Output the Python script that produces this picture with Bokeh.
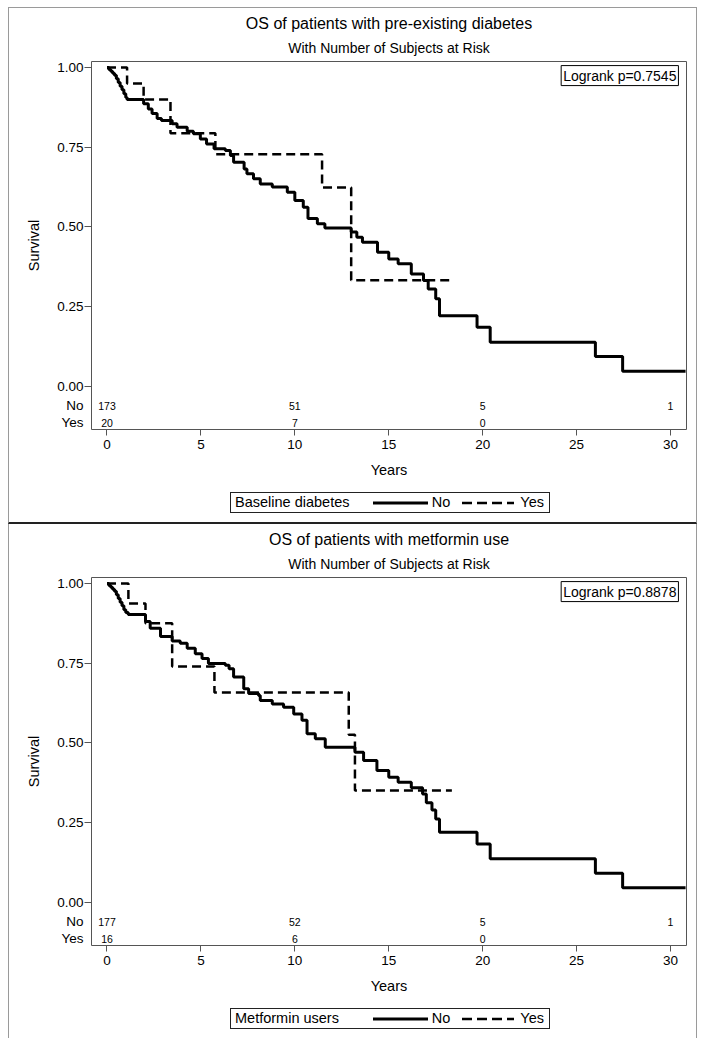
from bokeh.plotting import figure
from bokeh.models import (FixedTicker, Label, Title, LinearAxis, Div,
                          CustomJSTickFormatter)
from bokeh.layouts import column
from bokeh.embed import file_html
from bokeh.resources import INLINE
from bokeh.core.properties import value

# ---------------- data ----------------
year_ticks = [0, 5, 10, 15, 20, 25, 30]
surv_ticks = [0, 0.25, 0.5, 0.75, 1.0]
surv_labels = ["0.00", "0.25", "0.50", "0.75", "1.00"]
risk_times = [0, 10, 20, 30]
subtitle = "With Number of Subjects at Risk"
risk_groups = ["No", "Yes"]
legend_labels = ["No", "Yes"]

# Panel 1: baseline diabetes
p1_title = "OS of patients with pre-existing diabetes"
p1_legend_title = "Baseline diabetes"
p1_pval = "Logrank p=0.7545"
p1_no_t = [0, 0.1, 0.2, 0.3, 0.4, 0.5, 0.6, 0.7, 0.8, 0.9, 1.0, 1.07, 1.95, 2.2, 2.4, 2.67,
           2.9, 3.47, 3.73, 4.27, 4.6, 4.97, 5.3, 5.7, 6.3, 6.57, 6.74, 7.3, 7.45, 7.8, 8.16,
           8.8, 9.6, 10.0, 10.45, 10.7, 11.2, 11.6, 13.0, 13.3, 13.6, 14.4, 15.0, 15.5,
           16.2, 16.85, 17.1, 17.5, 17.7, 19.7, 20.4, 26.0, 27.45, 30.8]
p1_no_s = [1.0, 0.994, 0.988, 0.982, 0.976, 0.965, 0.953, 0.941, 0.930, 0.918, 0.906, 0.900,
           0.886, 0.870, 0.856, 0.840, 0.834, 0.824, 0.813, 0.800, 0.792, 0.776, 0.760,
           0.745, 0.740, 0.724, 0.703, 0.682, 0.667, 0.651, 0.635, 0.625, 0.609, 0.583,
           0.562, 0.527, 0.510, 0.497, 0.484, 0.468, 0.452, 0.421, 0.400, 0.385, 0.353,
           0.332, 0.306, 0.275, 0.222, 0.186, 0.139, 0.094, 0.048, 0.048]
p1_yes_t = [0, 1.07, 1.95, 3.38, 5.77, 11.45, 13.0, 18.36]
p1_yes_s = [1.0, 0.95, 0.90, 0.794, 0.728, 0.624, 0.333, 0.333]
p1_risk_no = ["173", "51", "5", "1"]
p1_risk_yes = ["20", "7", "0", ""]

# Panel 2: metformin use
p2_title = "OS of patients with metformin use"
p2_legend_title = "Metformin users"
p2_pval = "Logrank p=0.8878"
p2_no_t = [0, 0.1, 0.2, 0.3, 0.4, 0.5, 0.6, 0.7, 0.8, 0.9, 1.0, 1.13, 2.05, 2.3, 2.85, 3.47,
           3.9, 4.27, 4.7, 5.06, 5.4, 6.3, 6.5, 6.74, 7.28, 7.54, 8.07, 8.16, 8.8, 9.4,
           9.94, 10.38, 10.65, 11.09, 11.62, 13.2, 13.66, 14.37, 15.0, 15.5, 16.2, 16.8,
           17.0, 17.3, 17.5, 17.7, 19.7, 20.4, 26.0, 27.45, 30.8]
p2_no_s = [1.0, 0.994, 0.988, 0.982, 0.976, 0.965, 0.953, 0.941, 0.930, 0.918, 0.909, 0.903,
           0.881, 0.860, 0.834, 0.820, 0.813, 0.797, 0.780, 0.765, 0.749, 0.744, 0.733,
           0.707, 0.670, 0.655, 0.649, 0.633, 0.622, 0.612, 0.591, 0.571, 0.529, 0.513,
           0.487, 0.471, 0.445, 0.414, 0.393, 0.377, 0.360, 0.340, 0.313, 0.290, 0.262,
           0.220, 0.183, 0.137, 0.092, 0.046, 0.046]
p2_yes_t = [0, 1.14, 2.05, 3.47, 5.72, 12.87, 13.2, 18.36]
p2_yes_s = [1.0, 0.9375, 0.875, 0.740, 0.658, 0.526, 0.351, 0.351]
p2_risk_no = ["177", "52", "5", "1"]
p2_risk_yes = ["16", "6", "0", ""]

# ---------------- styling / geometry ----------------
FONT = "Liberation Sans"
W, H = 687, 476                    # figure canvas
BL, BR, BT, BB = 82, 10, 53, 55    # frame borders (px)
X0, X1 = -0.824, 30.85
Y0, Y1 = -0.1348, 1.0188
ROW_Y = [-0.0596, -0.1129]
LEG_H = 38


def make_panel(title, legend_title, pval, no_t, no_s, yes_t, yes_s, risk_no, risk_yes):
    p = figure(width=W, height=H, x_range=(X0, X1), y_range=(Y0, Y1),
               output_backend="svg", toolbar_location=None, title=None,
               min_border_left=BL, min_border_right=BR, min_border_top=BT,
               min_border_bottom=BB, margin=0)
    p.grid.visible = False
    p.background_fill_color = "white"
    p.border_fill_color = "white"
    p.outline_line_color = "#555555"
    p.outline_line_width = 1

    p.step(no_t, no_s, mode="after", line_color="black", line_width=3)
    p.step(yes_t, yes_s, mode="after", line_color="black", line_width=2.5,
           line_dash="9 5")

    # titles (first added sits nearest the frame)
    p.add_layout(Title(text=subtitle, align="center", text_font=FONT,
                       text_font_size="14px", text_font_style="normal",
                       text_color="black", standoff=12, text_line_height=0.75),
                 "above")
    p.add_layout(Title(text=title, align="center", text_font=FONT,
                       text_font_size="16px", text_font_style="normal",
                       text_color="black", standoff=0), "above")

    # x axis
    xa = p.xaxis[0]
    xa.ticker = FixedTicker(ticks=year_ticks)
    xa.axis_label = "Years"
    xa.axis_line_color = None
    xa.major_tick_in = 0
    xa.major_tick_out = 6
    xa.major_tick_line_color = "#555555"
    xa.minor_tick_line_color = None
    xa.major_label_standoff = 4
    xa.major_label_text_font = FONT
    xa.major_label_text_font_size = "13.5px"
    xa.major_label_text_color = "black"
    xa.axis_label_standoff = 10
    xa.axis_label_text_font = FONT
    xa.axis_label_text_font_size = "14.5px"
    xa.axis_label_text_font_style = "normal"
    xa.axis_label_text_color = "black"

    # y axis A: tick marks only (nearest to frame)
    ya = p.yaxis[0]
    ya.ticker = FixedTicker(ticks=surv_ticks)
    ya.formatter = CustomJSTickFormatter(code="return ''")
    ya.axis_line_color = None
    ya.major_tick_in = 0
    ya.major_tick_out = 7
    ya.major_tick_line_color = "#555555"
    ya.minor_tick_line_color = None
    ya.major_label_standoff = 0

    # y axis B: value labels + number-at-risk row labels, no tick marks
    yb_ticks = surv_ticks + ROW_Y
    yb_over = {t: s for t, s in zip(surv_ticks, surv_labels)}
    yb_over.update({t: g for t, g in zip(ROW_Y, risk_groups)})
    yb = LinearAxis(ticker=FixedTicker(ticks=yb_ticks), major_label_overrides=yb_over,
                    axis_line_color=None, major_tick_in=0, major_tick_out=0,
                    major_tick_line_color=None, minor_tick_line_color=None,
                    major_label_standoff=1, major_label_text_font=FONT,
                    major_label_text_font_size="13.5px", major_label_text_color="black",
                    axis_label="Survival", axis_label_standoff=12,
                    axis_label_text_font=FONT, axis_label_text_font_size="14.5px",
                    axis_label_text_font_style="normal", axis_label_text_color="black")
    p.add_layout(yb, "left")

    # number at risk values
    for vals, yy in zip([risk_no, risk_yes], ROW_Y):
        p.text(x=risk_times, y=[yy] * len(risk_times), text=vals, text_align="center",
               text_baseline="middle", text_font=value(FONT), text_font_size="10.5px",
               text_color="black")

    # logrank inset
    p.add_layout(Label(x=30.42, y=1.006, text=pval, text_align="right",
                       text_baseline="top", text_font=FONT, text_font_size="14px",
                       text_color="black", border_line_color="black",
                       border_line_width=1, background_fill_color="white",
                       padding=2))

    # legend (HTML box under the plot, with line samples)
    leg_html = (
        '<div style="margin:0;margin-left:221px;margin-top:8px;width:320px;height:21px;'
        'box-sizing:border-box;border:1px solid #222;display:flex;align-items:center;'
        'font-family:\'Liberation Sans\',Arial,sans-serif;font-size:14.5px;color:black;'
        'white-space:nowrap;">'
        f'<span style="margin-left:4px">{legend_title}</span>'
        '<svg width="55" height="6" style="margin-left:auto">'
        '<line x1="0" y1="3" x2="55" y2="3" stroke="black" stroke-width="3"/></svg>'
        f'<span style="margin-left:4px">{legend_labels[0]}</span>'
        '<svg width="52" height="6" style="margin-left:12px">'
        '<line x1="0" y1="3" x2="52" y2="3" stroke="black" stroke-width="2.5" '
        'stroke-dasharray="10 5"/></svg>'
        f'<span style="margin-left:6px;margin-right:5px">{legend_labels[1]}</span>'
        '</div>')
    leg = Div(text=leg_html, width=W, height=LEG_H, margin=0)
    return p, leg


p1, l1 = make_panel(p1_title, p1_legend_title, p1_pval, p1_no_t, p1_no_s, p1_yes_t,
                    p1_yes_s, p1_risk_no, p1_risk_yes)
p2, l2 = make_panel(p2_title, p2_legend_title, p2_pval, p2_no_t, p2_no_s, p2_yes_t,
                    p2_yes_s, p2_risk_no, p2_risk_yes)

GRAY = "1px solid #9a9a9a"
panel1 = column(p1, l1, spacing=0, margin=0,
                styles={"border-top": GRAY, "border-left": GRAY, "border-right": GRAY,
                        "border-bottom": "2px solid #222222"})
panel2 = column(p2, l2, spacing=0, margin=0,
                styles={"border-left": GRAY, "border-right": GRAY})
root = column(panel1, panel2, spacing=0, margin=(7, 0, 0, 8))
open("out.html", "w").write(file_html(root, INLINE))
